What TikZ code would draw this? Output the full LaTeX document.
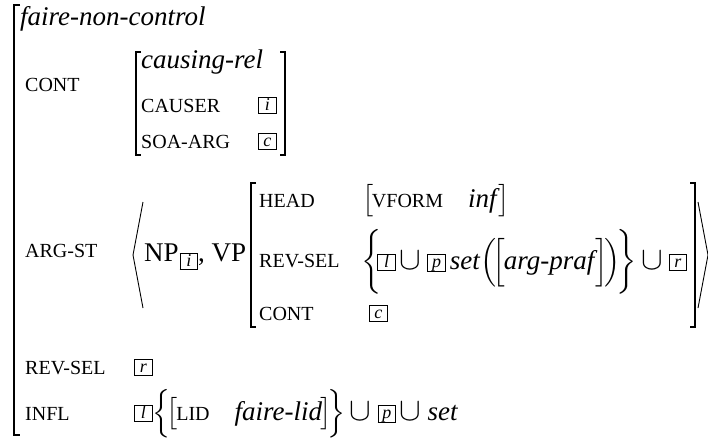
\documentclass[tikz,border=0pt]{standalone}
\usepackage{graphicx}
\usepackage{fontspec}
\setmainfont{Liberation Serif}
\DeclareFontShape{OMS}{cmsy}{m}{n}{<-6>cmsy5<6-7>cmsy6<7-8>cmsy7<8-9>cmsy8<9-10>cmsy9<10->cmsy10}{}
\DeclareFontShape{OMX}{cmex}{m}{n}{<-7.5>cmex7<7.5-8.5>cmex8<8.5-9.5>cmex9<9.5->cmex10}{}
\delimiterfactor=1000
\delimitershortfall=0pt
\nulldelimiterspace=0pt
\newcommand{\fs}[1]{{\fontsize{20}{22}\selectfont #1}}
\newcommand{\tg}[1]{\raisebox{1.5pt}{\setlength{\fboxsep}{0pt}\setlength{\fboxrule}{0.7pt}\fbox{\fontsize{18}{18}\selectfont\itshape\rule[-2pt]{0pt}{15pt}\makebox[17pt]{#1}}}}
\newcommand{\dl}[2]{\ensuremath{\left#1\vcenter to #2{\vfil}\right.}\kern-4pt}
\newcommand{\dr}[2]{\kern-4pt\ensuremath{\left.\vcenter to #2{\vfil}\right#1}}
\newcommand{\bl}[1]{\ensuremath{\left[\vcenter to #1{\vfil}\right.}\kern-1.5pt}
\newcommand{\br}[1]{\kern-1.5pt\ensuremath{\left.\vcenter to #1{\vfil}\right]}}
\newcommand{\cupsp}{\hspace{4pt}\scalebox{1.2}{$\cup$}\hspace{6pt}}
\tikzset{
  base/.style={anchor=base west, inner sep=0pt, font=\fontsize{27}{30}\selectfont},
  feat/.style={anchor=base west, inner sep=0pt, font=\fontsize{20}{22}\selectfont},
  brk/.style={line width=1.1pt},
  outerbrk/.style={line width=2pt},
  angl/.style={line width=0.9pt},
}
\begin{document}
\begin{tikzpicture}[x=1pt,y=-1pt]
\useasboundingbox[fill=white] (0,0) rectangle (708,437);
% outer bracket
\draw[outerbrk] (20,5) -- (14,5) -- (14,435) -- (20,435);
\node[base] (type) at (20,25) {\textit{faire-non-control}};
% CONT
\node[feat] (cont) at (25,91) {CONT};
\draw[brk] (141,52) -- (136,52) -- (136,155) -- (141,155);
\draw[brk] (280,52) -- (285,52) -- (285,155) -- (280,155);
\node[base] (crel) at (141,68) {\textit{causing-rel}};
\node[feat] (causer) at (141,112) {CAUSER};
\node[feat] (soa) at (141,148) {SOA-ARG};
\node[base] (ti) at (258,112) {\tg{i}};
\node[base] (tc) at (258,148) {\tg{c}};
% ARG-ST
\node[feat] (argst) at (25,257) {ARG-ST};
\coordinate (la1) at (143,202);
\coordinate (la2) at (133,255);
\coordinate (la3) at (143,308);
\draw[angl] (la1) -- (la2) -- (la3);
\node[base] (np) at (144,261) {NP\hspace{1pt}\raisebox{-7pt}{\tg{i}}, VP};
\draw[brk] (256,183) -- (251,183) -- (251,327) -- (256,327);
\draw[brk] (690,183) -- (695,183) -- (695,327) -- (690,327);
\coordinate (ra1) at (698,202);
\coordinate (ra2) at (708,255);
\coordinate (ra3) at (698,308);
\draw[angl] (ra1) -- (ra2) -- (ra3);
\node[feat] (head) at (259,207) {HEAD};
\node[feat] (rsel) at (259,267) {REV-SEL};
\node[feat] (vcont) at (259,320) {CONT};
\node[base] (vform) at (362,207) {\bl{32pt}\fs{VFORM}\hspace{25pt}\textit{inf}\br{32pt}};
\node[base] (rselv) at (361,269) {\dl\{{62pt}\tg{l}\cupsp\tg{p}\hspace{4pt}\textit{set}\dl({46pt}\bl{44pt}\textit{arg-praf}\br{44pt}\dr){46pt}\dr\}{62pt}\cupsp\tg{r}};
\node[base] (tc2) at (369,320) {\tg{c}};
% REV-SEL
\node[feat] (rsel2) at (25,374) {REV-SEL};
\node[base] (tr) at (134,374) {\tg{r}};
% INFL
\node[feat] (infl) at (25,420) {INFL};
\node[base] (inflv) at (134,420) {\tg{l}\dl\{{48pt}\bl{32pt}\fs{LID}\hspace{25pt}\textit{faire-lid}\br{32pt}\dr\}{48pt}\cupsp\tg{p}\cupsp\textit{set}};
\end{tikzpicture}
\end{document}
